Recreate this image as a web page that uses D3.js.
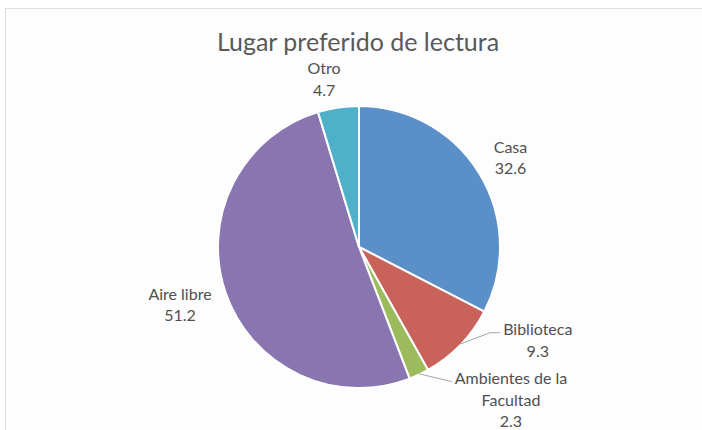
<!DOCTYPE html>
<html><head><meta charset="utf-8">
<script src="https://cdn.jsdelivr.net/npm/d3@7"></script>
<style>body{margin:0;background:#fff;}svg{display:block;}</style>
</head><body>
<svg id="c" width="702" height="430"></svg>
<script>
const categories = ["Casa", "Biblioteca", "Ambientes de la Facultad", "Aire libre", "Otro"];
const values = [32.6, 9.3, 2.3, 51.2, 4.7];
const colors = ["#5B8FC8", "#C9625B", "#9CBB5C", "#8975AF", "#4FB1C9"];
const labelLines = [["Casa","32.6"],["Biblioteca","9.3"],["Ambientes de la","Facultad","2.3"],["Aire libre","51.2"],["Otro","4.7"]];
const title = "Lugar preferido de lectura";

const W = 702, H = 430;
const svg = d3.select("#c");
svg.append("rect").attr("x",0).attr("y",0).attr("width",W).attr("height",H).attr("fill","#fff");
svg.append("rect").attr("x",5.5).attr("y",8.5).attr("width",W).attr("height",H).attr("fill","#fdfdfd").attr("stroke","#e2dedc");

svg.append("text").attr("x",358).attr("y",51).attr("text-anchor","middle")
  .attr("font-family","Lato, 'Open Sans', sans-serif").attr("font-size",25).attr("fill","#595959").text(title);

const cx = 359, cy = 247, R = 141;
const g = svg.append("g").attr("transform",`translate(${cx},${cy})`);
const data = categories.map((c,i)=>({c, v: values[i], i}));
const pie = d3.pie().value(d=>d.v).sort(null);
const arcs = pie(data);
const arc = d3.arc().innerRadius(0).outerRadius(R);
g.selectAll("path.s").data(arcs).join("path").attr("class","s")
  .attr("d",arc).attr("fill",d=>colors[d.data.i]).attr("stroke","#fff").attr("stroke-width",2).attr("stroke-linejoin","round");

// label layout (Excel-like best fit)
const labelArc = d3.arc().innerRadius(R*1.2).outerRadius(R*1.2);
const nudge = [[7,-1],[57,-24],[80,0],[-19,3],[-10,0]];
const leader = [false, true, true, false, false];
const lh = 21.5;
arcs.forEach((a,k)=>{
  const [x0,y0] = labelArc.centroid(a);
  const lx = x0 + nudge[k][0], ly = y0 + nudge[k][1];
  const lines = labelLines[k];
  const top = ly - (lines.length-1)*lh/2;
  const t = g.append("text").attr("text-anchor","middle")
    .attr("font-family","Lato, 'Open Sans', sans-serif").attr("font-size",16).attr("fill","#505050");
  lines.forEach((s,j)=>t.append("tspan").attr("x",lx).attr("y",top + j*lh + 5.5).text(s));
  if (leader[k]) {
    const mid = (a.startAngle + a.endAngle)/2;
    const p0 = [Math.sin(mid)*(R-1), -Math.cos(mid)*(R-1)];
    const bb = t.node().getBBox();
    const lineY = top + 3;
    const ex = bb.x - 3;
    const pts = k===1 ? [p0,[ex-10,lineY],[ex,lineY]] : [p0,[ex,lineY]];
    g.append("path").attr("d", d3.line()(pts)).attr("fill","none").attr("stroke","#a6a6a6").attr("stroke-width",1);
  }
});
</script>
</body></html>
